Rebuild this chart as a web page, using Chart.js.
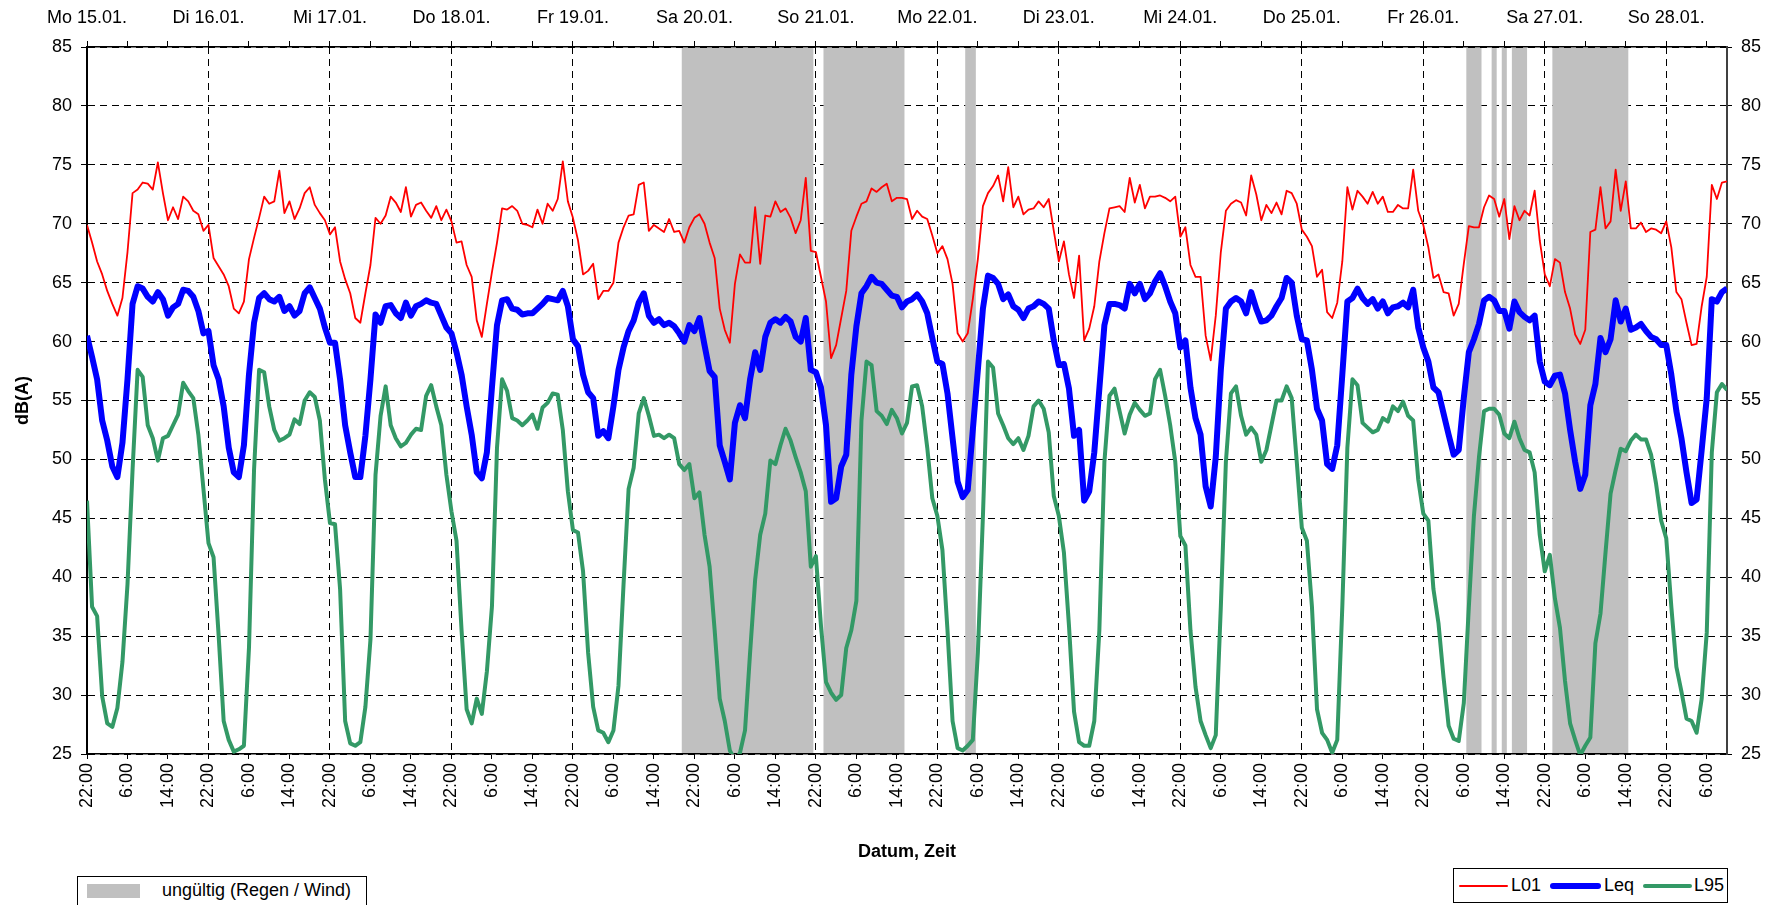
<!DOCTYPE html>
<html lang="de">
<head>
<meta charset="UTF-8">
<title>Pegelverlauf</title>
<script src="https://cdn.jsdelivr.net/npm/chart.js"></script>
<style>
    body { margin: 0; background: #fff; overflow: hidden; font-family: Arial, "Liberation Sans", sans-serif; }
    #wrap { position: relative; width: 1767px; height: 905px; overflow: hidden; }
    .legend { position: absolute; border: 1px solid #000; background: #fff; box-sizing: border-box; font-size: 18px; color: #000; }
    .legend span { position: absolute; }
    .sample { position: absolute; border-radius: 3px; }
</style>
</head>
<body>
<div id="wrap">
    <canvas id="chart" width="1767" height="905"></canvas>

    <div class="legend" style="left:77px; top:876px; width:290px; height:34px;">
        <div class="sample" style="left:9px; top:7px; width:53px; height:14px; background:#c0c0c0; border-radius:0;"></div>
        <span style="left:84px; top:3px;">ungültig (Regen / Wind)</span>
    </div>

    <div class="legend" style="left:1453px; top:868px; width:275px; height:35px;">
        <div class="sample" style="left:5px; top:16px; width:49px; height:2px; background:#ff0000;"></div>
        <span style="left:57px; top:6px;">L01</span>
        <div class="sample" style="left:96px; top:14px; width:51px; height:6px; background:#0000ff;"></div>
        <span style="left:150px; top:6px;">Leq</span>
        <div class="sample" style="left:189px; top:15px; width:49px; height:4px; background:#339966;"></div>
        <span style="left:240px; top:6px;">L95</span>
    </div>
</div>

<script>
    // Stundenwerte ab Mo 15.01. 22:00 (Index = Stunde)
    const l01 = [
        69.9, 68.4, 66.8, 65.7, 64.3, 63.2, 62.2, 63.7, 67.6, 72.6, 72.9, 73.5, 73.4, 72.9, 75.2, 72.6, 70.3, 71.4, 70.4, 72.3, 71.9, 71.1, 70.8, 69.4,
        69.9, 67.1, 66.4, 65.7, 64.7, 62.8, 62.4, 63.4, 67.0, 68.8, 70.5, 72.3, 71.7, 71.9, 74.5, 70.9, 71.9, 70.4, 71.3, 72.6, 73.1, 71.6, 70.9, 70.3,
        69.1, 69.7, 66.8, 65.3, 64.1, 62.0, 61.6, 64.1, 66.5, 70.5, 70.0, 70.7, 72.3, 71.8, 71.0, 73.1, 70.6, 71.6, 71.8, 71.1, 70.5, 71.5, 70.3, 71.2,
        70.2, 68.4, 68.5, 66.5, 65.5, 61.8, 60.4, 63.2, 65.9, 68.4, 71.3, 71.2, 71.5, 71.1, 70.0, 69.9, 69.7, 71.2, 70.0, 71.7, 71.1, 72.1, 75.3, 71.9,
        70.5, 68.6, 65.7, 66.0, 66.6, 63.6, 64.3, 64.3, 65.0, 68.4, 69.7, 70.7, 70.8, 73.3, 73.5, 69.4, 69.9, 69.6, 69.3, 70.4, 69.3, 69.4, 68.4, 69.7,
        70.5, 70.8, 70.0, 68.4, 67.1, 62.8, 61.0, 59.9, 64.9, 67.4, 66.7, 66.7, 71.4, 66.6, 70.7, 70.6, 71.9, 71.0, 71.3, 70.5, 69.2, 70.3, 73.9, 67.7,
        67.6, 65.5, 63.4, 58.6, 59.7, 62.0, 64.3, 69.4, 70.6, 71.7, 71.9, 73.0, 72.7, 73.1, 73.4, 71.9, 72.2, 72.2, 72.1, 70.4, 71.1, 70.6, 70.4, 69.0,
        67.5, 68.1, 67.0, 64.9, 60.7, 60.0, 60.7, 63.6, 67.0, 71.5, 72.6, 73.2, 74.1, 71.9, 74.8, 71.4, 72.3, 70.8, 71.2, 71.3, 71.9, 71.4, 72.1, 69.4,
        66.8, 68.5, 65.7, 63.7, 67.3, 60.1, 61.1, 63.0, 66.8, 69.2, 71.3, 71.4, 71.5, 71.0, 73.9, 71.8, 73.3, 71.3, 72.3, 72.3, 72.4, 72.2, 71.9, 72.3,
        68.9, 69.7, 66.5, 65.5, 65.5, 60.5, 58.4, 62.2, 67.6, 71.1, 71.7, 72.0, 71.8, 70.7, 74.1, 72.5, 70.3, 71.6, 70.9, 71.8, 70.8, 72.8, 72.6, 71.7,
        69.5, 68.9, 68.1, 65.5, 66.1, 62.5, 62.0, 63.3, 66.8, 73.1, 71.2, 72.8, 72.3, 71.7, 72.7, 71.7, 72.3, 71.0, 71.0, 71.6, 71.3, 71.3, 74.6, 71.1,
        69.9, 68.0, 65.4, 65.7, 64.2, 64.1, 62.2, 63.2, 66.6, 69.8, 69.7, 69.7, 71.4, 72.4, 72.1, 70.6, 72.1, 68.7, 71.5, 70.3, 71.1, 70.7, 72.8, 68.6,
        65.7, 64.7, 67.0, 66.7, 64.2, 62.8, 60.6, 59.8, 61.0, 69.3, 69.5, 73.1, 69.6, 70.2, 74.6, 71.1, 73.6, 69.6, 69.6, 70.1, 69.3, 69.6, 69.5, 69.2,
        70.2, 68.0, 64.2, 63.6, 61.6, 59.7, 59.8, 63.0, 65.5, 73.3, 72.1, 73.5, 73.6
    ];
    const leq = [
        60.5, 58.7, 56.8, 53.3, 51.6, 49.4, 48.5, 51.4, 56.8, 63.2, 64.7, 64.5, 63.8, 63.4, 64.2, 63.6, 62.2, 62.9, 63.2, 64.4, 64.3, 63.8, 62.6, 60.7,
        60.9, 58.0, 56.8, 54.5, 51.0, 48.9, 48.5, 51.2, 57.2, 61.6, 63.7, 64.1, 63.6, 63.4, 63.8, 62.6, 63.0, 62.2, 62.6, 64.1, 64.6, 63.7, 62.8, 61.2,
        59.9, 59.9, 56.8, 52.9, 50.6, 48.5, 48.5, 52.0, 56.8, 62.3, 61.6, 63.0, 63.1, 62.4, 62.0, 63.3, 62.2, 63.0, 63.2, 63.5, 63.3, 63.2, 62.2, 61.2,
        60.7, 59.1, 57.2, 54.5, 52.1, 48.9, 48.4, 50.6, 56.1, 61.4, 63.5, 63.6, 62.8, 62.7, 62.3, 62.4, 62.4, 62.8, 63.2, 63.7, 63.6, 63.5, 64.3, 63.0,
        60.2, 59.6, 57.2, 55.7, 55.2, 52.0, 52.4, 51.8, 54.5, 57.6, 59.5, 60.9, 61.8, 63.3, 64.1, 62.2, 61.6, 61.9, 61.4, 61.6, 61.3, 60.7, 60.0, 61.4,
        60.9, 62.0, 59.7, 57.5, 57.0, 51.2, 49.8, 48.3, 53.1, 54.6, 53.5, 56.8, 59.1, 57.6, 60.4, 61.6, 61.9, 61.6, 62.1, 61.7, 60.4, 60.0, 62.0, 57.6,
        57.4, 56.1, 52.9, 46.4, 46.7, 49.4, 50.4, 57.2, 61.3, 64.1, 64.7, 65.5, 65.0, 64.9, 64.4, 63.9, 63.8, 62.9, 63.4, 63.6, 64.0, 63.4, 62.4, 60.3,
        58.3, 58.1, 55.6, 51.8, 48.1, 46.8, 47.4, 52.5, 57.6, 62.8, 65.6, 65.4, 64.9, 63.6, 64.0, 63.0, 62.7, 62.0, 62.8, 63.0, 63.4, 63.2, 62.8, 60.1,
        58.0, 58.1, 56.0, 52.0, 52.5, 46.5, 47.3, 50.6, 56.0, 61.4, 63.2, 63.2, 63.1, 62.8, 64.9, 64.1, 64.9, 63.6, 64.1, 65.1, 65.8, 64.7, 63.4, 62.4,
        59.5, 60.1, 56.1, 53.5, 52.1, 47.7, 46.0, 50.2, 57.6, 62.8, 63.4, 63.7, 63.4, 62.4, 64.2, 62.8, 61.7, 61.8, 62.2, 63.0, 63.7, 65.4, 65.0, 62.2,
        60.2, 60.1, 57.6, 54.3, 53.3, 49.6, 49.2, 51.2, 57.2, 63.4, 63.7, 64.5, 63.7, 63.2, 63.6, 62.8, 63.4, 62.4, 62.9, 63.0, 63.3, 62.9, 64.4, 61.2,
        59.5, 58.3, 56.1, 55.7, 53.9, 52.1, 50.4, 50.8, 55.2, 59.1, 60.2, 61.5, 63.5, 63.8, 63.5, 62.6, 62.6, 61.1, 63.4, 62.5, 62.1, 61.8, 62.2, 58.3,
        56.6, 56.3, 57.1, 57.2, 55.6, 52.5, 49.8, 47.5, 48.7, 54.6, 56.4, 60.3, 59.1, 60.2, 63.5, 61.7, 62.8, 61.0, 61.2, 61.5, 60.9, 60.4, 60.2, 59.7,
        59.7, 57.2, 54.1, 51.8, 48.9, 46.3, 46.6, 50.8, 55.2, 63.6, 63.4, 64.2, 64.5
    ];
    const l95 = [
        46.5, 37.5, 36.7, 29.9, 27.6, 27.3, 28.9, 32.8, 39.4, 49.1, 57.6, 57.0, 52.9, 51.8, 49.9, 51.8, 52.0, 52.9, 53.8, 56.5, 55.8, 55.2, 52.1, 47.5,
        42.9, 41.7, 35.1, 27.8, 26.2, 25.2, 25.4, 25.7, 34.0, 49.1, 57.6, 57.4, 54.5, 52.5, 51.6, 51.8, 52.1, 53.4, 53.0, 55.0, 55.7, 55.3, 53.3, 48.3,
        44.6, 44.5, 39.0, 27.8, 25.9, 25.7, 26.0, 29.0, 34.7, 48.7, 53.7, 56.2, 52.9, 51.8, 51.1, 51.4, 52.1, 52.6, 52.5, 55.4, 56.3, 54.5, 52.9, 48.7,
        45.6, 43.1, 35.5, 28.8, 27.6, 29.7, 28.4, 32.0, 37.5, 51.0, 56.8, 55.8, 53.5, 53.3, 52.9, 53.3, 53.8, 52.6, 54.4, 54.8, 55.6, 55.5, 52.5, 47.3,
        44.0, 43.8, 40.5, 33.6, 29.0, 27.0, 26.8, 26.0, 27.0, 30.8, 39.4, 47.5, 49.3, 53.9, 55.2, 53.7, 52.0, 52.1, 51.8, 52.1, 51.8, 49.6, 49.1, 49.6,
        46.7, 47.2, 43.6, 40.9, 35.5, 29.7, 27.8, 25.3, 24.5, 25.1, 27.0, 33.6, 39.8, 43.6, 45.4, 49.9, 49.6, 51.2, 52.6, 51.6, 50.2, 48.9, 47.3, 40.9,
        41.8, 35.9, 31.1, 30.2, 29.6, 30.0, 34.0, 35.5, 38.0, 53.3, 58.3, 58.0, 54.1, 53.7, 53.0, 54.2, 53.5, 52.2, 53.1, 56.2, 56.3, 54.5, 51.0, 46.7,
        45.2, 42.3, 35.5, 27.8, 25.5, 25.3, 25.7, 26.2, 33.6, 45.2, 58.3, 57.8, 53.9, 52.9, 51.8, 51.3, 51.8, 50.8, 52.0, 54.5, 55.0, 54.3, 52.3, 46.9,
        45.2, 42.1, 35.9, 28.6, 26.0, 25.7, 25.7, 27.8, 35.5, 49.8, 55.4, 56.0, 54.1, 52.2, 53.8, 54.8, 54.2, 53.7, 53.9, 56.8, 57.6, 55.4, 52.9, 49.8,
        43.5, 42.7, 35.5, 30.7, 27.8, 26.6, 25.5, 26.6, 37.5, 49.8, 55.6, 56.2, 53.7, 52.1, 52.7, 52.1, 49.8, 50.8, 52.9, 55.0, 55.0, 56.2, 55.2, 49.8,
        44.2, 43.1, 37.5, 28.8, 26.8, 26.2, 25.1, 26.2, 37.5, 51.0, 56.8, 56.3, 53.1, 52.7, 52.3, 52.5, 53.5, 53.2, 54.5, 54.1, 54.9, 53.7, 53.3, 48.3,
        45.4, 44.8, 39.0, 36.1, 31.5, 27.4, 26.3, 26.1, 29.3, 37.5, 45.2, 50.2, 54.1, 54.3, 54.3, 53.8, 52.2, 51.8, 53.2, 51.8, 50.8, 50.6, 48.9, 43.6,
        40.5, 41.9, 38.2, 35.7, 31.2, 27.6, 26.2, 24.9, 25.7, 26.4, 34.4, 36.9, 42.1, 47.1, 49.1, 50.9, 50.7, 51.6, 52.1, 51.7, 51.7, 50.4, 47.9, 44.8,
        43.3, 37.5, 32.4, 30.3, 28.0, 27.8, 26.8, 29.7, 35.3, 50.6, 55.7, 56.4, 55.9
    ];

    // ungültige Zeiträume (Regen / Wind), Stunden von / bis
    const invalidFrom = [117.5, 145.5, 173.5, 272.5, 277.5, 279.5, 281.5, 289.5];
    const invalidTo   = [143.5, 161.5, 175.6, 275.5, 278.5, 280.5, 284.5, 304.5];

    const dayLabels = ["Mo 15.01.", "Di 16.01.", "Mi 17.01.", "Do 18.01.", "Fr 19.01.", "Sa 20.01.", "So 21.01.",
                       "Mo 22.01.", "Di 23.01.", "Mi 24.01.", "Do 25.01.", "Fr 26.01.", "Sa 27.01.", "So 28.01."];
    const timeLabels = ["22:00", "6:00", "14:00"];

    const toPoints = arr => arr.map((v, i) => ({ x: i, y: v }));

    Chart.defaults.font.family = 'Arial, "Liberation Sans", sans-serif';
    Chart.defaults.font.size = 18;
    Chart.defaults.color = "#000";

    // graue Balken fuer ungueltige Zeitraeume, hinter den Kurven
    const invalidBands = {
        id: "invalidBands",
        beforeDatasetsDraw(chart) {
            const { ctx, chartArea, scales } = chart;
            ctx.save();
            ctx.fillStyle = "#c0c0c0";
            invalidFrom.forEach((from, i) => {
                const x1 = scales.x.getPixelForValue(from);
                const x2 = scales.x.getPixelForValue(invalidTo[i]);
                ctx.fillRect(x1, chartArea.top + 1, x2 - x1, chartArea.bottom - chartArea.top - 2);
            });
            ctx.restore();
        }
    };

    const ctx = document.getElementById("chart").getContext("2d");
    new Chart(ctx, {
        type: "line",
        data: {
            datasets: [
                { label: "L01", data: toPoints(l01), borderColor: "#ff0000", borderWidth: 1.8, order: 3 },
                { label: "Leq", data: toPoints(leq), borderColor: "#0000ff", borderWidth: 6, order: 2 },
                { label: "L95", data: toPoints(l95), borderColor: "#339966", borderWidth: 4, order: 1 }
            ]
        },
        options: {
            responsive: false,
            devicePixelRatio: 1,
            animation: false,
            layout: { padding: 0 },
            datasets: {
                line: { pointRadius: 0, tension: 0, fill: false, clip: 0, borderJoinStyle: "round" }
            },
            plugins: {
                legend: { display: false },
                tooltip: { enabled: false }
            },
            scales: {
                x: {
                    type: "linear",
                    position: "bottom",
                    min: 0,
                    max: 324,
                    afterFit: s => { s.height = 151; },
                    ticks: {
                        stepSize: 8,
                        includeBounds: false,
                        autoSkip: false,
                        minRotation: 90,
                        maxRotation: 90,
                        padding: 4,
                        callback: v => timeLabels[(v / 8) % 3]
                    },
                    grid: {
                        color: c => (c.tick && c.tick.value % 24 === 0) ? "#000" : "rgba(0,0,0,0)",
                        tickColor: "#000",
                        tickLength: 5,
                        lineWidth: 1
                    },
                    border: { color: "#000", width: 1.5, dash: [7, 5] },
                    title: {
                        display: true,
                        text: "Datum, Zeit",
                        font: { weight: "bold" },
                        padding: { top: 0, bottom: 42 }
                    }
                },
                xTop: {
                    type: "linear",
                    position: "top",
                    min: 0,
                    max: 324,
                    afterFit: s => { s.height = 47; },
                    ticks: {
                        stepSize: 8,
                        includeBounds: false,
                        autoSkip: false,
                        minRotation: 0,
                        maxRotation: 0,
                        padding: 12,
                        callback: v => v % 24 === 0 ? dayLabels[v / 24] : ""
                    },
                    grid: { drawOnChartArea: false, tickColor: "#000", tickLength: 6 },
                    border: { color: "#000", width: 1.5 }
                },
                y: {
                    position: "left",
                    min: 25,
                    max: 85,
                    afterFit: s => { s.width = 87; },
                    ticks: { stepSize: 5, padding: 9 },
                    grid: { color: "#000", tickColor: "#000", tickLength: 6, lineWidth: 1 },
                    border: { color: "#000", width: 2, dash: [7, 5] },
                    title: {
                        display: true,
                        text: "dB(A)",
                        font: { weight: "bold" },
                        padding: { top: 12, bottom: 0 }
                    }
                },
                y2: {
                    position: "right",
                    min: 25,
                    max: 85,
                    afterFit: s => { s.width = 40; },
                    ticks: { stepSize: 5, padding: 9 },
                    grid: { drawOnChartArea: false, tickColor: "#000", tickLength: 5 },
                    border: { color: "#404040", width: 2 }
                }
            }
        },
        plugins: [invalidBands]
    });
</script>
</body>
</html>
